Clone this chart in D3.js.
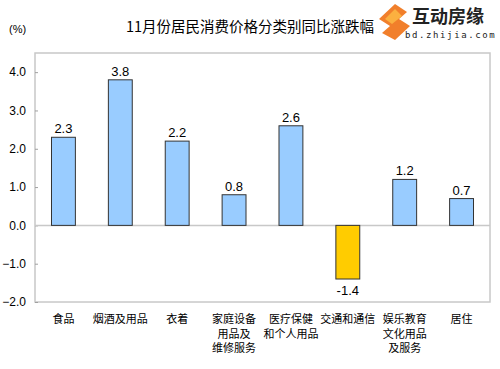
<!DOCTYPE html>
<html>
<head>
<meta charset="utf-8">
<script src="https://cdn.jsdelivr.net/npm/d3@7"></script>
<style>
  body { margin: 0; background: #fff; }
  text { font-family: "Liberation Sans", Arial, "Noto Sans CJK SC", sans-serif; }
</style>
</head>
<body>
<svg id="chart" width="500" height="369"></svg>
<script>
/* données */
var categories = ["食品", "烟酒及用品", "衣着", "家庭设备用品及维修服务", "医疗保健和个人用品", "交通和通信", "娱乐教育文化用品及服务", "居住"];
var labelLines = [["食品"], ["烟酒及用品"], ["衣着"], ["家庭设备", "用品及", "维修服务"], ["医疗保健", "和个人用品"], ["交通和通信"], ["娱乐教育", "文化用品", "及服务"], ["居住"]];
var values = [2.3, 3.8, 2.2, 0.8, 2.6, -1.4, 1.2, 0.7];
var yTicks = [-2, -1, 0, 1, 2, 3, 4];

var svg = d3.select("#chart");
var plotLeft = 35, plotRight = 490, plotTop = 53, plotBottom = 302;

var x = d3.scaleBand()
    .domain(categories)
    .range([plotLeft, plotRight])
    .paddingInner(0.58)
    .paddingOuter(0.29);
var y = d3.scaleLinear()
    .domain([-2, 4.5])
    .range([plotBottom, plotTop]);

/* cadre de la zone de tracé */
svg.append("rect")
    .attr("x", plotLeft)
    .attr("y", plotTop)
    .attr("width", plotRight - plotLeft)
    .attr("height", plotBottom - plotTop)
    .attr("fill", "none")
    .attr("stroke", "#c8c8c8")
    .attr("stroke-width", 1.5);

/* axe des y */
var yAxis = svg.append("g")
    .attr("transform", "translate(" + plotLeft + ",0)")
    .call(d3.axisLeft(y).tickValues(yTicks).tickSize(-3).tickPadding(9)
        .tickFormat(d3.format(".1f")));
yAxis.select(".domain").remove();
yAxis.selectAll("line").attr("stroke", "#a0a0a0");
yAxis.selectAll("text")
    .attr("font-size", 12)
    .attr("fill", "#000")
    .style("font-family", "'Liberation Sans', Arial, sans-serif");

/* ligne du zéro */
svg.append("line")
    .attr("x1", plotLeft)
    .attr("x2", plotRight)
    .attr("y1", y(0))
    .attr("y2", y(0))
    .attr("stroke", "#c8c8c8")
    .attr("stroke-width", 1.5);

/* barres */
svg.selectAll("rect.bar")
    .data(values)
    .enter()
    .append("rect")
    .attr("class", "bar")
    .attr("x", function (d, i) { return x(categories[i]); })
    .attr("y", function (d) { return y(Math.max(0, d)); })
    .attr("width", x.bandwidth())
    .attr("height", function (d) { return Math.abs(y(d) - y(0)); })
    .attr("fill", function (d) { return d < 0 ? "#ffcc00" : "#99ccff"; })
    .attr("stroke", "#333")
    .attr("stroke-width", 1);

/* étiquettes des valeurs */
svg.selectAll("text.val")
    .data(values)
    .enter()
    .append("text")
    .attr("class", "val")
    .attr("x", function (d, i) { return x(categories[i]) + x.bandwidth() / 2; })
    .attr("y", function (d) { return d < 0 ? y(d) + 16 : y(d) - 4; })
    .attr("text-anchor", "middle")
    .attr("font-size", 13)
    .attr("fill", "#000")
    .text(function (d) { return d.toFixed(1); });

/* étiquettes des catégories */
var cat = svg.selectAll("text.cat")
    .data(labelLines)
    .enter()
    .append("text")
    .attr("class", "cat")
    .attr("text-anchor", "middle")
    .attr("font-size", 11)
    .attr("fill", "#000")
    .style("font-family", "'Noto Sans CJK SC', sans-serif");
cat.each(function (lines, i) {
    var cx = x(categories[i]) + x.bandwidth() / 2;
    d3.select(this).selectAll("tspan")
        .data(lines)
        .enter()
        .append("tspan")
        .attr("x", cx)
        .attr("y", function (d, j) { return 323 + j * 14.5; })
        .text(function (d) { return d; });
});

/* titre et unité */
svg.append("text")
    .attr("x", 250)
    .attr("y", 32)
    .attr("text-anchor", "middle")
    .attr("font-size", 14.5)
    .attr("fill", "#000")
    .style("font-family", "'Noto Sans CJK SC', sans-serif")
    .text("11月份居民消费价格分类别同比涨跌幅");
svg.append("text")
    .attr("x", 9)
    .attr("y", 33)
    .attr("font-size", 11)
    .attr("fill", "#000")
    .text("(%)");

/* filigrane du site */
var logo = svg.append("g").attr("transform", "translate(377,4)");
logo.append("path")
    .attr("d", "M18 0 L2 15 L13 22 L5 29 L18 36 L33 22 L22 15 L30 8 Z")
    .attr("fill", "#f07820")
    .attr("opacity", 0.95);
logo.append("path")
    .attr("d", "M18 5 L8 15 L15 20 L25 12 Z")
    .attr("fill", "#fbb040");
logo.append("text")
    .attr("x", 35)
    .attr("y", 19)
    .attr("font-size", 18)
    .attr("font-weight", "bold")
    .attr("fill", "#222")
    .style("font-family", "'Noto Sans CJK SC', sans-serif")
    .text("互动房缘");
logo.append("text")
    .attr("x", 28)
    .attr("y", 34)
    .attr("font-size", 9)
    .attr("letter-spacing", 1.6)
    .attr("fill", "#222")
    .style("font-family", "'DejaVu Sans Mono', monospace")
    .text("bd.zhijia.com");
</script>
</body>
</html>
